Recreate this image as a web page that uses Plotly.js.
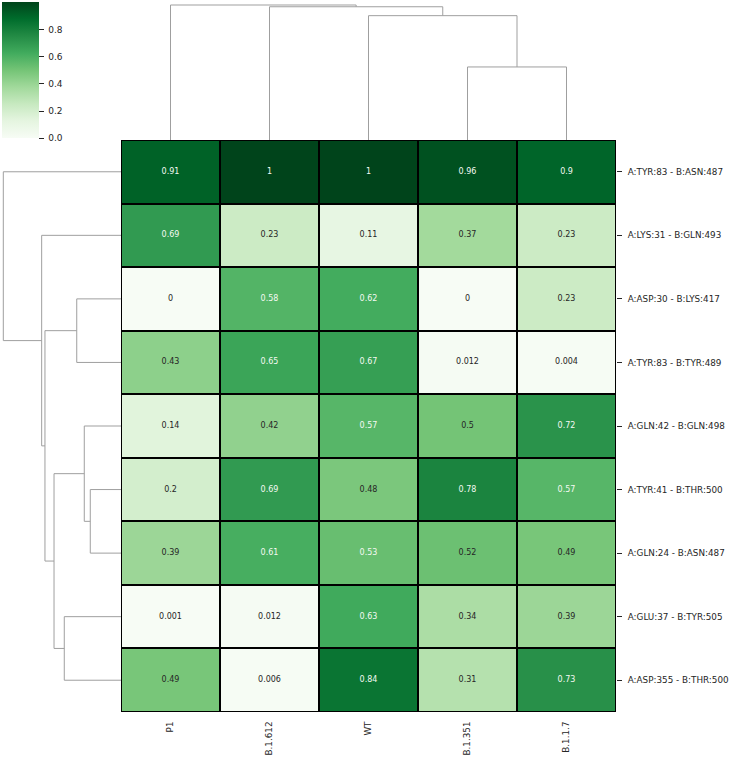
<!DOCTYPE html>
<html>
<head>
<meta charset="utf-8">
<script src="https://cdn.plot.ly/plotly-3.0.1.min.js"></script>
<style>html,body{margin:0;padding:0;background:#fff}#chart{width:733px;height:760px}</style>
</head>
<body>
<div id="chart"></div>
<script>
// ---- data ----
const colLabels = ['P1', 'B.1.612', 'WT', 'B.1.351', 'B.1.1.7'];
const rowLabels = [
  'A:TYR:83 - B:ASN:487',
  'A:LYS:31 - B:GLN:493',
  'A:ASP:30 - B:LYS:417',
  'A:TYR:83 - B:TYR:489',
  'A:GLN:42 - B:GLN:498',
  'A:TYR:41 - B:THR:500',
  'A:GLN:24 - B:ASN:487',
  'A:GLU:37 - B:TYR:505',
  'A:ASP:355 - B:THR:500'
];
const rowTYR83_ASN487  = [0.91, 1, 1, 0.96, 0.9];
const rowLYS31_GLN493  = [0.69, 0.23, 0.11, 0.37, 0.23];
const rowASP30_LYS417  = [0, 0.58, 0.62, 0, 0.23];
const rowTYR83_TYR489  = [0.43, 0.65, 0.67, 0.012, 0.004];
const rowGLN42_GLN498  = [0.14, 0.42, 0.57, 0.5, 0.72];
const rowTYR41_THR500  = [0.2, 0.69, 0.48, 0.78, 0.57];
const rowGLN24_ASN487  = [0.39, 0.61, 0.53, 0.52, 0.49];
const rowGLU37_TYR505  = [0.001, 0.012, 0.63, 0.34, 0.39];
const rowASP355_THR500 = [0.49, 0.006, 0.84, 0.31, 0.73];
const values = [rowTYR83_ASN487, rowLYS31_GLN493, rowASP30_LYS417, rowTYR83_TYR489,
  rowGLN42_GLN498, rowTYR41_THR500, rowGLN24_ASN487, rowGLU37_TYR505, rowASP355_THR500];

// linkage (scipy style): [childA, childB, height]; leaves 0..n-1, merged nodes n+k
const colLinkage = [[3, 4, 0.541], [2, 5, 0.921], [1, 6, 0.987], [0, 7, 1.0]];
const rowLinkage = [[5, 6, 0.261], [4, 9, 0.312], [2, 3, 0.376], [7, 8, 0.482],
  [10, 12, 0.569], [11, 13, 0.646], [1, 14, 0.674], [0, 15, 1.0]];
const colorbarTicks = [0, 0.2, 0.4, 0.6, 0.8];

// ---- layout helpers ----
const W = 733, H = 760;
const hmL = 121, hmR = 616, hmT = 140, hmB = 712;
const FONT = 'DejaVu Sans';
const TXT = '#262626';
const greens = [[0, '#f7fcf5'], [0.125, '#e5f5e0'], [0.25, '#c7e9c0'], [0.375, '#a1d99b'],
  [0.5, '#74c476'], [0.625, '#41ab5d'], [0.75, '#238b45'], [0.875, '#006d2c'], [1, '#00441b']];

function dendro(n, linkage) {
  const pos = [], ht = [];
  for (let i = 0; i < n; i++) { pos.push(i); ht.push(0); }
  const p = [], h = [];
  linkage.forEach(([a, b, hh]) => {
    p.push(pos[a], pos[a], pos[b], pos[b], null);
    h.push(ht[a], hh, hh, ht[b], null);
    pos.push((pos[a] + pos[b]) / 2); ht.push(hh);
  });
  return {p, h, max: Math.max(...linkage.map(l => l[2]))};
}
const colD = dendro(colLabels.length, colLinkage);
const rowD = dendro(rowLabels.length, rowLinkage);

function fmt(v) { return String(Number(v.toPrecision(2))); }

const tx = [], ty = [], tt = [], tc = [];
values.forEach((row, i) => row.forEach((v, j) => {
  tx.push(colLabels[j]); ty.push(rowLabels[i]); tt.push(fmt(v));
  tc.push(v >= 0.525 ? '#f4f9f2' : TXT);
}));

const lineStyle = {color: '#9f9f9f', width: 1};
const traces = [
  {
    type: 'heatmap', z: values, x: colLabels, y: rowLabels,
    zmin: 0, zmax: 1, colorscale: greens, xgap: 2, ygap: 2,
    hoverinfo: 'skip',
    colorbar: {
      thickness: 37, thicknessmode: 'pixels', len: 135.5, lenmode: 'pixels',
      x: 2 / W, xref: 'container', xanchor: 'left',
      y: 1 - 2.2 / H, yref: 'container', yanchor: 'top',
      xpad: 0, ypad: 0, outlinewidth: 0,
      ticks: 'outside', ticklen: 5, tickwidth: 1, tickcolor: TXT,
      tickvals: colorbarTicks, ticktext: colorbarTicks.map(v => '\u00a0' + v.toFixed(1)),
      tickfont: {family: FONT, size: 9, color: TXT}
    }
  },
  {
    type: 'scatter', mode: 'text', x: tx, y: ty, text: tt,
    textfont: {family: FONT, size: 8, color: tc}, hoverinfo: 'skip', showlegend: false
  },
  {
    type: 'scatter', mode: 'lines', x: colD.p, y: colD.h, xaxis: 'x2', yaxis: 'y2',
    line: lineStyle, hoverinfo: 'skip', showlegend: false, connectgaps: false
  },
  {
    type: 'scatter', mode: 'lines', x: rowD.h, y: rowD.p, xaxis: 'x3', yaxis: 'y3',
    line: lineStyle, hoverinfo: 'skip', showlegend: false, connectgaps: false
  }
];

const hidden = {visible: false, showgrid: false, zeroline: false, fixedrange: true};
const xDom = [hmL / W, hmR / W], yDom = [1 - hmB / H, 1 - hmT / H];
const layout = {
  width: W, height: H, margin: {l: 0, r: 0, t: 0, b: 0, autoexpand: false},
  paper_bgcolor: '#ffffff', plot_bgcolor: 'rgba(0,0,0,0)', showlegend: false,
  font: {family: FONT, color: TXT},
  xaxis: {
    domain: xDom, anchor: 'y', type: 'category', range: [-0.5, colLabels.length - 0.5],
    showgrid: false, zeroline: false, showline: false, tickangle: -90,
    ticks: 'outside', ticklen: 5, tickcolor: 'rgba(0,0,0,0)',
    tickfont: {family: FONT, size: 8.8, color: TXT}, automargin: false
  },
  yaxis: {
    domain: yDom, anchor: 'x', type: 'category', range: [rowLabels.length - 0.5, -0.5],
    side: 'right', showgrid: false, zeroline: false, showline: false,
    ticks: 'outside', ticklen: 5, tickwidth: 1, tickcolor: TXT, ticklabelstandoff: 4,
    tickfont: {family: FONT, size: 8.8, color: TXT}, automargin: false
  },
  xaxis2: Object.assign({}, hidden, {domain: xDom, anchor: 'y2', range: [-0.5, colLabels.length - 0.5]}),
  yaxis2: Object.assign({}, hidden, {domain: [1 - hmT / H, 1], anchor: 'x2', range: [0, colD.max * 1.037]}),
  xaxis3: Object.assign({}, hidden, {domain: [0, hmL / W], anchor: 'y3', range: [rowD.max * 1.028, 0]}),
  yaxis3: Object.assign({}, hidden, {domain: yDom, anchor: 'x3', range: [rowLabels.length - 0.5, -0.5]}),
  shapes: [{
    type: 'rect', xref: 'x domain', yref: 'y domain', x0: 0, x1: 1, y0: 0, y1: 1,
    fillcolor: '#000000', line: {width: 0}, layer: 'below'
  }]
};
Plotly.newPlot('chart', traces, layout, {staticPlot: true, displayModeBar: false});
</script>
</body>
</html>
